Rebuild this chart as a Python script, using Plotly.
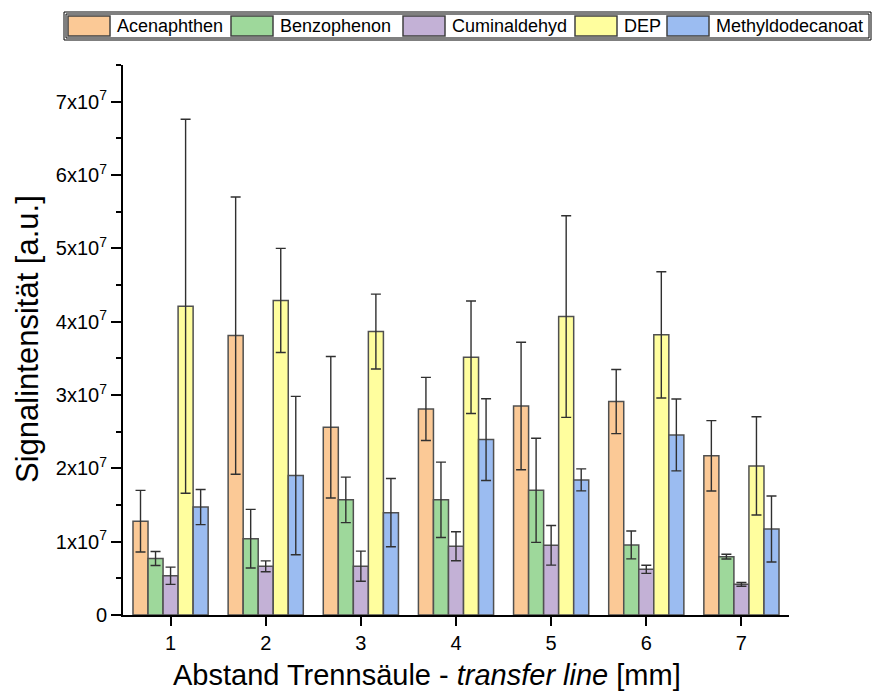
import plotly.graph_objects as go

# Distance between separation column and transfer line, in mm
abstand = [1, 2, 3, 4, 5, 6, 7]

substanzen = ["Acenaphthen", "Benzophenon", "Cuminaldehyd", "DEP", "Methyldodecanoat"]
farben = ["#FBC996", "#9ED89B", "#C3B1D6", "#FFFE9E", "#9BBCF1"]

# Mean signal intensities [a.u.]
acenaphthen = [1.28e7, 3.81e7, 2.56e7, 2.81e7, 2.85e7, 2.91e7, 2.17e7]
benzophenon = [0.77e7, 1.04e7, 1.57e7, 1.57e7, 1.70e7, 0.955e7, 0.796e7]
cuminaldehyd = [0.535e7, 0.664e7, 0.666e7, 0.937e7, 0.950e7, 0.623e7, 0.418e7]
dep = [4.21e7, 4.29e7, 3.865e7, 3.515e7, 4.07e7, 3.82e7, 2.033e7]
methyldodecanoat = [1.472e7, 1.901e7, 1.396e7, 2.392e7, 1.842e7, 2.456e7, 1.173e7]

# Standard deviations [a.u.]
acenaphthen_sd = [0.42e7, 1.89e7, 0.965e7, 0.43e7, 0.87e7, 0.437e7, 0.48e7]
benzophenon_sd = [0.095e7, 0.40e7, 0.31e7, 0.514e7, 0.71e7, 0.19e7, 0.032e7]
cuminaldehyd_sd = [0.118e7, 0.074e7, 0.205e7, 0.198e7, 0.27e7, 0.055e7, 0.025e7]
dep_sd = [2.55e7, 0.71e7, 0.51e7, 0.767e7, 1.375e7, 0.86e7, 0.67e7]
methyldodecanoat_sd = [0.24e7, 1.08e7, 0.466e7, 0.557e7, 0.15e7, 0.49e7, 0.45e7]

y_tickvals = [0, 1e7, 2e7, 3e7, 4e7, 5e7, 6e7, 7e7]
y_ticktext = ["0"] + [f"{i}x10<sup>7</sup>" for i in range(1, 8)]

werte = [acenaphthen, benzophenon, cuminaldehyd, dep, methyldodecanoat]
fehler = [acenaphthen_sd, benzophenon_sd, cuminaldehyd_sd, dep_sd, methyldodecanoat_sd]

FONT = "Liberation Sans, Arial, sans-serif"
W, H = 872, 693
L, R, T, B = 123, 789, 65, 615  # plot area in pixels


def px(x):
    return (x - L) / (R - L)


def py(y):
    return (B - y) / (B - T)


fig = go.Figure()
for name, col, y, e in zip(substanzen, farben, werte, fehler):
    fig.add_trace(go.Bar(
        x=abstand, y=y, name=name,
        marker=dict(color=col, line=dict(color="#505050", width=1.5)),
        error_y=dict(type="data", array=e, visible=True,
                     color="#303030", thickness=1.4, width=5),
    ))

fig.update_layout(
    width=W, height=H,
    margin=dict(l=L, r=W - R, t=T, b=H - B),
    paper_bgcolor="white", plot_bgcolor="white",
    barmode="group", bargap=0.21, bargroupgap=0,
    showlegend=False,
    font=dict(family=FONT, color="black"),
)

fig.update_xaxes(
    range=[0.5, 7.5], tickmode="array", tickvals=abstand,
    ticktext=[str(a) for a in abstand],
    showline=True, linecolor="black", linewidth=2,
    ticks="outside", ticklen=9, tickwidth=2, tickcolor="black",
    tickfont=dict(size=20, family=FONT), showgrid=False, zeroline=False,
)
fig.update_yaxes(
    range=[0, 7.5e7], tickmode="array", tickvals=y_tickvals, ticktext=y_ticktext,
    showline=True, linecolor="black", linewidth=2,
    ticks="outside", ticklen=10, tickwidth=2, tickcolor="black",
    minor=dict(tickmode="linear", tick0=0, dtick=5e6, ticks="outside",
               ticklen=5, tickwidth=2, tickcolor="black"),
    tickfont=dict(size=20, family=FONT), showgrid=False, zeroline=False,
)

# Axis titles
fig.add_annotation(
    text="Signalintensität [a.u.]", xref="paper", yref="paper",
    x=px(27), y=py(339), textangle=-90, showarrow=False,
    font=dict(size=31, family=FONT), xanchor="center", yanchor="middle",
)
fig.add_annotation(
    text="Abstand Trennsäule - <i>transfer line</i> [mm]", xref="paper", yref="paper",
    x=px(427), y=py(675), showarrow=False,
    font=dict(size=29, family=FONT), xanchor="center", yanchor="middle",
)

# Legend box with double frame
shapes = [
    dict(type="rect", xref="paper", yref="paper",
         x0=px(64), x1=px(871), y0=py(12), y1=py(40),
         line=dict(color="black", width=1), fillcolor="white"),
    dict(type="rect", xref="paper", yref="paper",
         x0=px(66), x1=px(869), y0=py(14), y1=py(38),
         line=dict(color="black", width=1)),
]
swatch_x = [68, 231, 403, 575, 667]
for sx, col, name in zip(swatch_x, farben, substanzen):
    shapes.append(dict(type="rect", xref="paper", yref="paper",
                       x0=px(sx), x1=px(sx + 42), y0=py(16), y1=py(36),
                       line=dict(color="#404040", width=1.5), fillcolor=col))
    fig.add_annotation(text=name, xref="paper", yref="paper",
                       x=px(sx + 47), y=py(26), showarrow=False,
                       xanchor="left", yanchor="middle",
                       font=dict(size=18, family=FONT))
fig.update_layout(shapes=shapes)

fig.write_html("out.html")
